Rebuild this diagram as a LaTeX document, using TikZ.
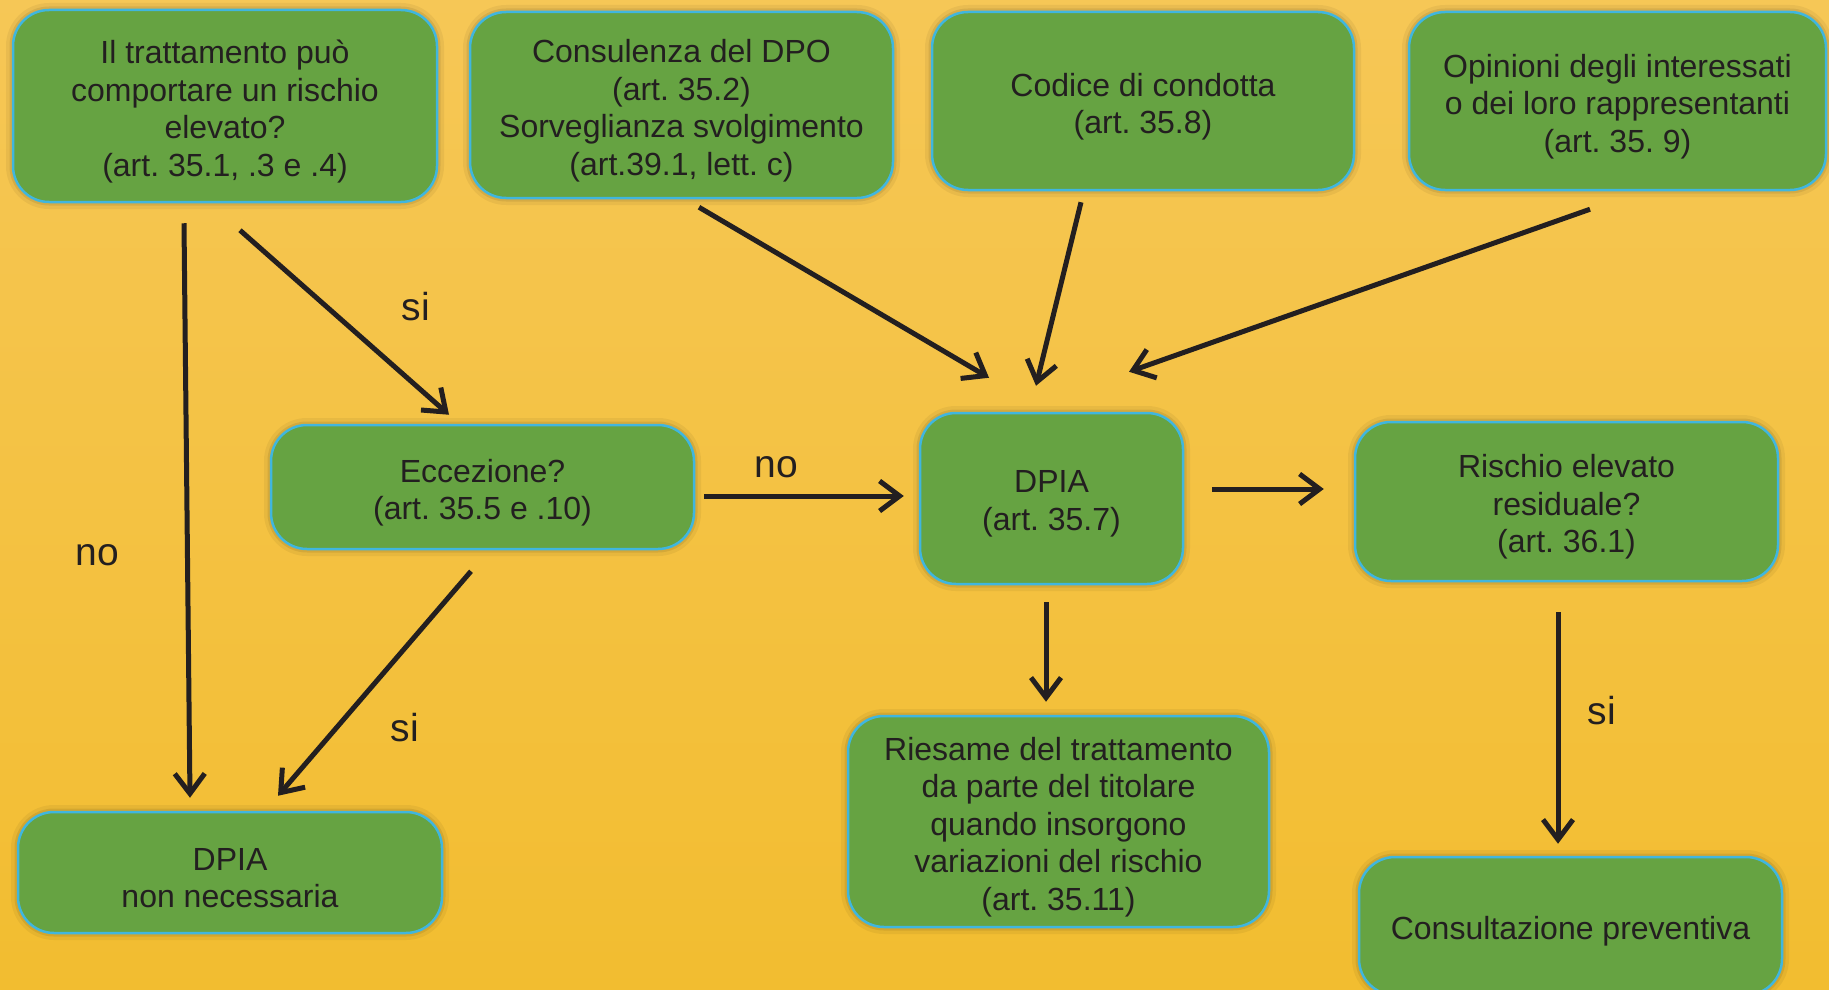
\documentclass[tikz,border=0pt]{standalone}
\usepackage{fontspec}
\setmainfont{Liberation Sans}
\usetikzlibrary{arrows.meta}
\frenchspacing
\definecolor{bgtop}{RGB}{246,199,86}
\definecolor{bgbot}{RGB}{242,189,48}
\definecolor{boxgreen}{RGB}{102,163,66}
\definecolor{boxborder}{RGB}{64,182,222}
\definecolor{ink}{RGB}{35,31,32}
\tikzset{
  flowbox/.style={rectangle, rounded corners=36pt, fill=boxgreen, draw=boxborder,
    line width=2.5pt, inner sep=0pt,
    preaction={draw=black, draw opacity=0.05, line width=14pt},
    preaction={draw=black, draw opacity=0.08, line width=7pt}},
  boxtext/.style={align=center, text=ink, font=\fontsize{32}{37.5}\selectfont\frenchspacing, inner sep=0pt},
  arr/.style={draw=ink, line width=5pt, -{Straight Barb[length=20pt,width=30pt]}},
  lbl/.style={text=ink, font=\fontsize{39}{44}\selectfont, anchor=base, inner sep=0pt}
}
\begin{document}
\begin{tikzpicture}[x=1pt,y=-1pt]
\useasboundingbox (0,0) rectangle (1829,990);
\shade[top color=bgtop, bottom color=bgbot] (0,0) rectangle (1829,990);
\clip (0,0) rectangle (1829,990);

% boxes
\node[flowbox, minimum width=424pt, minimum height=192pt] (A) at (225,106) {};
\node[flowbox, minimum width=423pt, minimum height=186pt] (B) at (681.5,105) {};
\node[flowbox, minimum width=422pt, minimum height=178pt] (C) at (1143,101) {};
\node[flowbox, minimum width=417pt, minimum height=178pt] (D) at (1617.5,101) {};
\node[flowbox, minimum width=423pt, minimum height=124pt] (E) at (482.5,487) {};
\node[flowbox, minimum width=263pt, minimum height=171pt] (F) at (1051.5,498.5) {};
\node[flowbox, minimum width=423pt, minimum height=159pt] (G) at (1566.5,501.5) {};
\node[flowbox, minimum width=424pt, minimum height=121pt] (H) at (230,872.5) {};
\node[flowbox, minimum width=421pt, minimum height=211pt] (I) at (1058.5,821.5) {};
\node[flowbox, minimum width=423pt, minimum height=138pt] (J) at (1570.5,926) {};

% box texts
\node[boxtext] (At) at ([yshift=-5.5pt]A.center)
  {Il trattamento può\\comportare un rischio\\elevato?\\(art. 35.1, .3 e .4)};
\node[boxtext] (Bt) at ([yshift=-5.5pt]B.center)
  {Consulenza del DPO\\(art. 35.2)\\Sorveglianza svolgimento\\(art.39.1, lett. c)};
\node[boxtext] (Ct) at ([yshift=-5.5pt]C.center)
  {Codice di condotta\\(art. 35.8)};
\node[boxtext] (Dt) at ([yshift=-5.5pt]D.center)
  {Opinioni degli interessati\\o dei loro rappresentanti\\(art. 35. 9)};
\node[boxtext] (Et) at ([yshift=-5.5pt]E.center)
  {Eccezione?\\(art. 35.5 e .10)};
\node[boxtext] (Ft) at ([yshift=-5.5pt]F.center)
  {DPIA\\(art. 35.7)};
\node[boxtext] (Gt) at ([yshift=-5.5pt]G.center)
  {Rischio elevato\\residuale?\\(art. 36.1)};
\node[boxtext] (Ht) at ([yshift=-5.5pt]H.center)
  {DPIA\\non necessaria};
\node[boxtext] (It) at ([yshift=-5.5pt]I.center)
  {Riesame del trattamento\\da parte del titolare\\quando insorgono\\variazioni del rischio\\(art. 35.11)};
\node[boxtext] (Jt) at ([yshift=-5.5pt]J.center)
  {Consultazione preventiva};

% connectors
\draw[arr] ([xshift=-41pt,yshift=-20pt]A.south) -- ([xshift=-40pt,yshift=13pt]H.north);
\draw[arr] ([xshift=15pt,yshift=-27pt]A.south) -- ([xshift=-33.5pt,yshift=9pt]E.north);
\draw[arr] ([xshift=-11.5pt,yshift=-21pt]E.south) -- ([xshift=48pt,yshift=15pt]H.north);
\draw[arr] ([xshift=9pt,yshift=-9pt]E.east) -- ([xshift=-15pt,yshift=2.5pt]F.west);
\draw[arr] ([xshift=17.5pt,yshift=-8pt]B.south) -- ([xshift=-62.5pt,yshift=34pt]F.north);
\draw[arr] ([xshift=-62pt,yshift=-11pt]C.south) -- ([xshift=-15.5pt,yshift=26pt]F.north);
\draw[arr] ([xshift=-27.5pt,yshift=-18pt]D.south) -- ([xshift=77.5pt,yshift=40pt]F.north);
\draw[arr] ([xshift=28pt,yshift=9.5pt]F.east) -- ([xshift=-30pt,yshift=12.5pt]G.west);
\draw[arr] ([xshift=-5.5pt,yshift=-17pt]F.south) -- ([xshift=-12.5pt,yshift=13pt]I.north);
\draw[arr] ([xshift=-8.5pt,yshift=-30pt]G.south) -- ([xshift=-12.5pt,yshift=12pt]J.north);

% labels
\node[lbl] (l1) at (416,320) {si};
\node[lbl] (l2) at (97.5,565) {no};
\node[lbl] (l3) at (776,477) {no};
\node[lbl] (l4) at (405,741) {si};
\node[lbl] (l5) at (1602,724) {si};
\end{tikzpicture}
\end{document}
